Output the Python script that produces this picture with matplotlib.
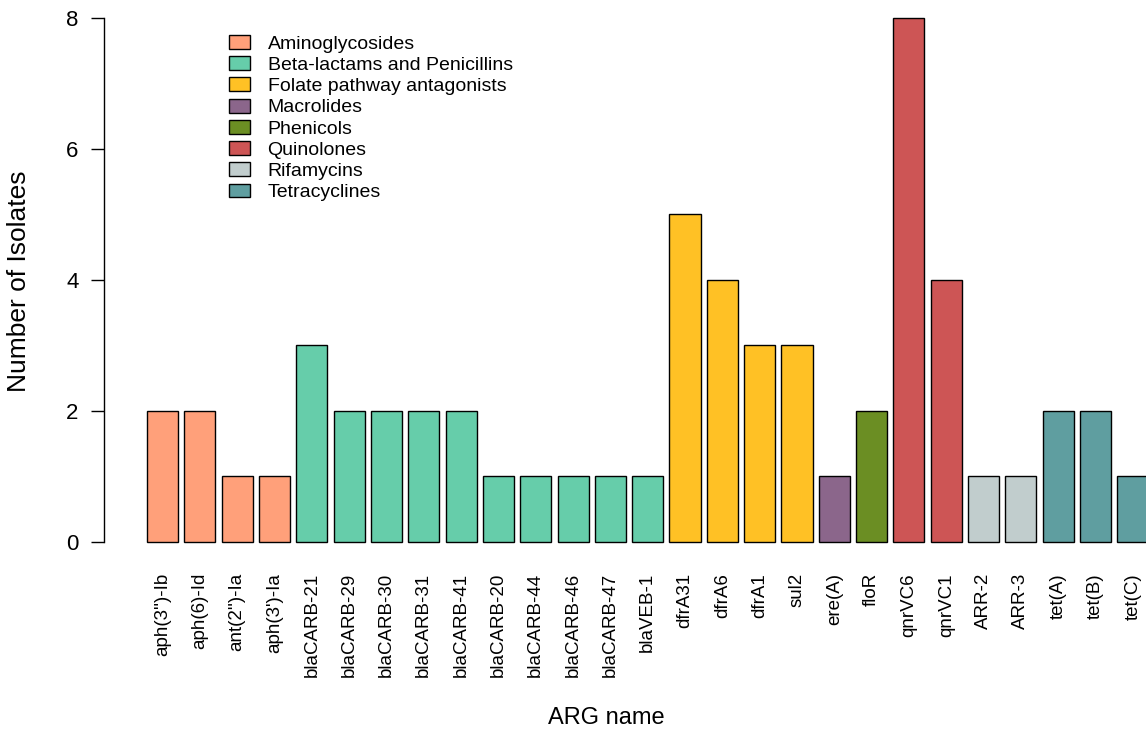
import matplotlib
matplotlib.use("Agg")
import matplotlib.pyplot as plt
from matplotlib.patches import Patch
import numpy as np

plt.rcParams['font.family'] = ['Liberation Sans', 'DejaVu Sans']

genes = ["aph(3'')-Ib", "aph(6)-Id", "ant(2'')-Ia", "aph(3')-Ia",
         "blaCARB-21", "blaCARB-29", "blaCARB-30", "blaCARB-31", "blaCARB-41",
         "blaCARB-20", "blaCARB-44", "blaCARB-46", "blaCARB-47", "blaVEB-1",
         "dfrA31", "dfrA6", "dfrA1", "sul2", "ere(A)", "floR",
         "qnrVC6", "qnrVC1", "ARR-2", "ARR-3", "tet(A)", "tet(B)", "tet(C)"]
counts = [2, 2, 1, 1,
          3, 2, 2, 2, 2, 1, 1, 1, 1, 1,
          5, 4, 3, 3, 1, 2,
          8, 4, 1, 1, 2, 2, 1]
gene_class = ["Aminoglycosides"] * 4 + ["Beta-lactams and Penicillins"] * 10 + \
             ["Folate pathway antagonists"] * 4 + ["Macrolides", "Phenicols"] + \
             ["Quinolones"] * 2 + ["Rifamycins"] * 2 + ["Tetracyclines"] * 3

classes = ["Aminoglycosides", "Beta-lactams and Penicillins", "Folate pathway antagonists",
           "Macrolides", "Phenicols", "Quinolones", "Rifamycins", "Tetracyclines"]
class_colors = ["#FFA07A", "#66CDAA", "#FFC125", "#8B668B",
                "#6B8E23", "#CD5555", "#C1CDCD", "#5F9EA0"]
color_of = dict(zip(classes, class_colors))

W, H = 1146, 732
fig = plt.figure(figsize=(W / 100, H / 100), dpi=100)

# plot region in pixels (barplot style: width 1, space 0.2)
left_px, right_px, top_px, bot_px = 104, 1146, 0, 562
ax = fig.add_axes([left_px / W, 1 - bot_px / H, (right_px - left_px) / W, (bot_px - top_px) / H])

unit = 31.1
x0 = 0.2 - (147 - left_px) / unit
x1 = 0.2 + (right_px - 147) / unit
ypx = 65.5
ax.set_xlim(x0, x1)
ax.set_ylim(-(bot_px - 541.7) / ypx, (541.7 - top_px) / ypx)

xpos = 0.7 + 1.2 * np.arange(len(genes))
ax.bar(xpos, counts, width=1.0, color=[color_of[c] for c in gene_class],
       edgecolor="black", linewidth=1.0)

for s in ["top", "right", "bottom"]:
    ax.spines[s].set_visible(False)
ax.spines["left"].set_bounds(0, 8)
ax.spines["left"].set_linewidth(1.0)

ax.set_yticks([0, 2, 4, 6, 8])
ax.tick_params(axis="y", length=9.4, width=1.0, pad=9, labelsize=16)
ax.set_xticks(xpos)
ax.set_xticklabels(genes, rotation=90, fontsize=13.5, va="top")
ax.tick_params(axis="x", length=0, pad=8)

fig.text(19 / W, 1 - 281 / H, "Number of Isolates", rotation=90,
         ha="center", va="center", fontsize=19)
fig.text(606 / W, 1 - 718 / H, "ARG name", ha="center", va="center", fontsize=17)

handles = [Patch(facecolor=c, edgecolor="black", linewidth=1.0) for c in class_colors]
ax.legend(handles, classes, loc="upper left", bbox_to_anchor=(229 / W, 1 - 35 / H),
          bbox_transform=fig.transFigure, frameon=False, fontsize=14,
          borderpad=0, borderaxespad=0, handlelength=1.08, handleheight=0.72,
          handletextpad=0.9, labelspacing=0.18)

fig.savefig("out.png", dpi=100)
